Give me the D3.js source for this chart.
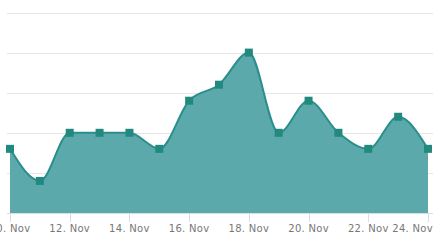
<!DOCTYPE html>
<html>
<head>
<meta charset="utf-8">
<script src="https://cdn.jsdelivr.net/npm/d3@7"></script>
<style>
  html, body { margin: 0; padding: 0; background: #fff; }
  svg { display: block; }
  .tick-label { font-family: "DejaVu Sans", sans-serif; font-size: 10px; fill: #777; letter-spacing: 0.3px; }
</style>
</head>
<body>
<div id="chart"></div>
<script>
// days of November and the values
const days = [10, 11, 12, 13, 14, 15, 16, 17, 18, 19, 20, 21, 22, 23, 24];
const values = [8, 4, 10, 10, 10, 8, 14, 16, 20, 10, 14, 10, 8, 12, 8];
const yTicks = [0, 5, 10, 15, 20, 25];
const xTicks = [10, 12, 14, 16, 18, 20, 22, 24];

const width = 442;
const height = 245;

const svg = d3.select("#chart")
  .append("svg")
  .attr("width", width)
  .attr("height", height);

const x = d3.scaleLinear()
  .domain([10, 24])
  .range([10, 428]);

const y = d3.scaleLinear()
  .domain([0, 25])
  .range([213, 12.5]);

const data = days.map((d, i) => ({ day: d, value: values[i] }));

// horizontal grid
svg.append("g")
  .selectAll("line")
  .data(yTicks)
  .join("line")
  .attr("x1", 7)
  .attr("x2", 433)
  .attr("y1", d => Math.round(y(d)) + 0.5)
  .attr("y2", d => Math.round(y(d)) + 0.5)
  .attr("stroke", "#e6e6e6")
  .attr("stroke-width", 1);

const area = d3.area()
  .x(d => x(d.day))
  .y0(y(0))
  .y1(d => y(d.value))
  .curve(d3.curveMonotoneX);

const line = d3.line()
  .x(d => x(d.day))
  .y(d => y(d.value))
  .curve(d3.curveMonotoneX);

svg.append("path")
  .datum(data)
  .attr("d", area)
  .attr("fill", "#5ba9aa");

svg.append("path")
  .datum(data)
  .attr("d", line)
  .attr("fill", "none")
  .attr("stroke", "#2a8f8c")
  .attr("stroke-width", 2);

// x axis line and ticks
svg.append("line")
  .attr("x1", 7)
  .attr("x2", 433)
  .attr("y1", 213.5)
  .attr("y2", 213.5)
  .attr("stroke", "#d8dde6");

const xg = svg.append("g");
xg.selectAll("line")
  .data(xTicks)
  .join("line")
  .attr("x1", d => Math.round(x(d)) + 0.5)
  .attr("x2", d => Math.round(x(d)) + 0.5)
  .attr("y1", 213)
  .attr("y2", 222)
  .attr("stroke", "#d8dde6");

// last label is pushed inside the chart, the first one is clipped as in the original
const last = xTicks[xTicks.length - 1];
xg.selectAll("text")
  .data(xTicks)
  .join("text")
  .attr("class", "tick-label")
  .attr("x", d => d === last ? 433 : x(d))
  .attr("y", 232)
  .attr("text-anchor", d => d === last ? "end" : "middle")
  .text(d => d + ". Nov");

// square markers
svg.append("g")
  .selectAll("rect")
  .data(data)
  .join("rect")
  .attr("x", d => x(d.day) - 4)
  .attr("y", d => y(d.value) - 4)
  .attr("width", 8)
  .attr("height", 8)
  .attr("fill", "#22897f");
</script>
</body>
</html>
